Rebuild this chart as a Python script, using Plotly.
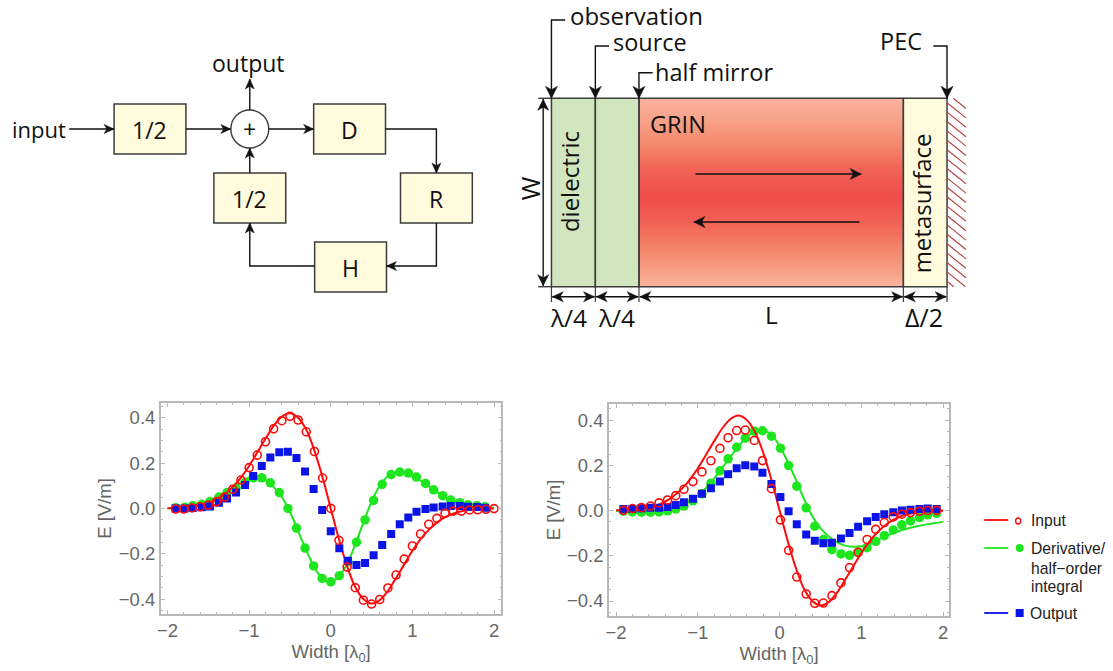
import plotly.graph_objects as go
import numpy as np

W, H = 1113, 671

# ---------- chart data ----------
x_line = [-2.0,-1.9,-1.8,-1.7,-1.6,-1.5,-1.4,-1.3,-1.2,-1.1,-1.0,-0.9,-0.8,-0.7,-0.6,-0.5,-0.4,-0.3,-0.2,-0.1,0.0,
          0.1,0.2,0.3,0.4,0.5,0.6,0.7,0.8,0.9,1.0,1.1,1.2,1.3,1.4,1.5,1.6,1.7,1.8,1.9,2.0]
input_line = [0.001,0.002,0.004,0.007,0.013,0.023,0.039,0.063,0.095,0.136,0.187,0.247,0.307,0.364,0.405,0.42,0.40,0.347,0.255,0.136,0.0,
              -0.136,-0.255,-0.347,-0.40,-0.42,-0.405,-0.364,-0.307,-0.247,-0.187,-0.136,-0.095,-0.063,-0.039,-0.023,-0.013,-0.007,-0.004,-0.002,-0.001]
left_green_line = [0.001,0.003,0.006,0.011,0.018,0.028,0.043,0.063,0.088,0.116,0.135,0.143,0.128,0.095,0.05,-0.015,-0.10,-0.185,-0.26,-0.312,-0.325,
                   -0.30,-0.245,-0.16,-0.062,0.03,0.10,0.142,0.158,0.155,0.142,0.122,0.098,0.073,0.052,0.036,0.024,0.016,0.01,0.006,0.003]
right_green_line = [-0.002,-0.003,-0.003,-0.003,-0.002,0.0,0.003,0.01,0.022,0.04,0.066,0.10,0.142,0.19,0.238,0.285,0.325,0.35,0.355,0.335,0.285,
                    0.215,0.135,0.05,-0.025,-0.078,-0.115,-0.14,-0.155,-0.16,-0.158,-0.148,-0.13,-0.113,-0.098,-0.086,-0.076,-0.068,-0.061,-0.055,-0.05]

left_red_x = [-1.9,-1.8,-1.7,-1.6,-1.5,-1.4,-1.3,-1.2,-1.1,-1.0,-0.9,-0.8,-0.7,-0.6,-0.5,-0.4,-0.3,-0.2,-0.1,0.0,
              0.1,0.2,0.3,0.4,0.5,0.6,0.7,0.8,0.9,1.0,1.1,1.2,1.3,1.4,1.5,1.6,1.7,1.8,1.9,2.0]
left_red_y = [-0.003,-0.003,0.002,0.007,0.015,0.03,0.05,0.084,0.125,0.18,0.235,0.294,0.351,0.387,0.406,0.39,0.338,0.251,0.134,0.0,
              -0.141,-0.259,-0.35,-0.405,-0.422,-0.402,-0.351,-0.294,-0.224,-0.166,-0.113,-0.07,-0.044,-0.022,-0.012,-0.012,-0.007,-0.006,-0.004,-0.001]
left_x = [-1.9,-1.79,-1.69,-1.58,-1.48,-1.37,-1.27,-1.16,-1.05,-0.95,-0.845,-0.74,-0.63,-0.525,-0.42,-0.315,-0.21,-0.105,0.0,
          0.105,0.21,0.315,0.42,0.525,0.63,0.74,0.845,0.95,1.05,1.16,1.26,1.37,1.47,1.58,1.68,1.79,1.89]
left_blue_y = [0.0,0.0,0.002,0.005,0.008,0.025,0.044,0.07,0.103,0.143,0.187,0.225,0.248,0.25,0.222,0.163,0.085,-0.007,-0.101,
               -0.176,-0.231,-0.25,-0.241,-0.207,-0.162,-0.113,-0.07,-0.04,-0.015,-0.003,0.004,0.008,0.01,0.01,0.007,0.006,0.003]
left_green_y = [0.003,0.005,0.012,0.018,0.03,0.05,0.07,0.09,0.115,0.135,0.135,0.113,0.07,0.0,-0.087,-0.175,-0.254,-0.309,-0.324,
                -0.297,-0.235,-0.149,-0.051,0.035,0.106,0.149,0.16,0.156,0.138,0.11,0.082,0.056,0.037,0.025,0.016,0.012,0.007]

right_x = [-1.91,-1.8,-1.69,-1.58,-1.475,-1.37,-1.27,-1.17,-1.06,-0.95,-0.84,-0.73,-0.63,-0.525,-0.42,-0.31,-0.21,-0.1,0.01,
           0.11,0.21,0.325,0.43,0.535,0.64,0.75,0.855,0.96,1.07,1.175,1.28,1.39,1.495,1.6,1.71,1.81,1.92]
right_red_y = [0.001,0.009,0.013,0.02,0.034,0.047,0.066,0.094,0.128,0.171,0.22,0.275,0.322,0.354,0.356,0.31,0.221,0.097,-0.041,
               -0.176,-0.294,-0.369,-0.41,-0.409,-0.376,-0.32,-0.252,-0.185,-0.128,-0.083,-0.053,-0.028,-0.016,-0.009,-0.003,0.0,0.001]
right_blue_y = [0.007,0.007,0.01,0.012,0.013,0.016,0.025,0.037,0.052,0.074,0.099,0.128,0.161,0.187,0.2,0.195,0.167,0.118,0.06,
                -0.003,-0.06,-0.106,-0.133,-0.145,-0.142,-0.124,-0.099,-0.072,-0.047,-0.028,-0.016,-0.007,0.0,0.004,0.007,0.009,0.007]
right_green_y = [-0.003,-0.006,-0.007,-0.007,-0.006,-0.001,0.007,0.02,0.043,0.074,0.121,0.176,0.229,0.28,0.32,0.351,0.353,0.329,0.276,
                 0.199,0.108,0.012,-0.069,-0.128,-0.173,-0.192,-0.198,-0.185,-0.164,-0.136,-0.111,-0.086,-0.063,-0.046,-0.031,-0.019,-0.012]

x_ticks = [-2, -1, 0, 1, 2]
y_ticks = [-0.4, -0.2, 0.0, 0.2, 0.4]
legend_labels = ["Input", "Derivative/", "half\u2212order", "integral", "Output"]

# ---------- colours ----------
RED, GREEN, BLUE = "#ff0a0a", "#1ee61e", "#0a14e6"
GRAY_TXT, FRAME = "#666666", "#b8b8b8"
DARK, STROKE = "#111111", "#3c3c3c"
YELLOW, LEAF = "#fffbdc", "#d1e5bf"
SANS, DIAG = "Liberation Sans", "Open Sans"

fig = go.Figure()
shapes, notes = [], []


# ---------- helpers for the pixel-space overlay ----------
def line(pts, color=DARK, width=1.4):
    d = "M" + " L".join(f"{x},{y}" for x, y in pts)
    shapes.append(dict(type="path", path=d, xref="x3", yref="y3", line=dict(color=color, width=width)))


def head(tip, frm, length=10, half=4.5, color=DARK):
    tx, ty = tip
    fx, fy = frm
    n = ((tx - fx) ** 2 + (ty - fy) ** 2) ** 0.5
    ux, uy = (tx - fx) / n, (ty - fy) / n
    px, py = -uy, ux
    b1 = (tx - ux * length + px * half, ty - uy * length + py * half)
    b2 = (tx - ux * length - px * half, ty - uy * length - py * half)
    m = (tx - ux * length * 0.72, ty - uy * length * 0.72)
    d = f"M{tx},{ty} L{b1[0]},{b1[1]} L{m[0]},{m[1]} L{b2[0]},{b2[1]} Z"
    shapes.append(dict(type="path", path=d, xref="x3", yref="y3", fillcolor=color, line=dict(color=color, width=0.5)))


def arrow(pts, both=False, **kw):
    line(pts)
    head(pts[-1], pts[-2], **kw)
    if both:
        head(pts[0], pts[1], **kw)


def box(x0, y0, x1, y1, fill, color=STROKE, width=1.5):
    shapes.append(dict(type="rect", x0=x0, y0=y0, x1=x1, y1=y1, xref="x3", yref="y3",
                       fillcolor=fill, line=dict(color=color, width=width)))


def text(x, y, s, size=24, color=DARK, family=DIAG, anchor="center", angle=0):
    notes.append(dict(x=x, y=y, text=s, xref="x3", yref="y3", showarrow=False, xanchor=anchor, yanchor="middle",
                      textangle=angle, font=dict(size=size, color=color, family=family), borderpad=0, borderwidth=0))


# ---------- block diagram ----------
for (x0, y0, x1, y1, label) in [(113, 104, 185, 154, "1/2"), (313, 104, 385, 154, "D"), (400, 173, 472, 223, "R"),
                                (213, 173, 285, 223, "1/2"), (314, 242, 386, 292, "H")]:
    box(x0, y0, x1, y1, YELLOW)
    text((x0 + x1) / 2, (y0 + y1) / 2 + 1, label, size=23)
shapes.append(dict(type="circle", x0=230, y0=110, x1=268, y1=148, xref="x3", yref="y3",
                   fillcolor="white", line=dict(color=STROKE, width=1.4)))
text(249, 129, "+", size=23)
arrow([(68, 129), (113, 129)])
arrow([(185, 129), (230, 129)])
arrow([(268, 129), (313, 129)])
arrow([(385, 129), (436, 129), (436, 173)])
arrow([(436, 223), (436, 266), (386, 266)])
arrow([(314, 266), (249, 266), (249, 223)])
arrow([(249, 173), (249, 148)])
arrow([(249, 110), (249, 79)])
text(11, 129, "input", anchor="left", size=22)
text(248, 63, "output", size=23)

# ---------- waveguide diagram ----------
xa, xb, xc, xd, xe = 551.3, 595.3, 639, 904, 947.7
yt, yb = 98.3, 286.7
stop_y = [98.3, 120, 145, 170, 197, 222, 248, 270, 286.7]
stop_z = [0.0, 0.17, 0.45, 0.8, 1.0, 0.82, 0.5, 0.22, 0.0]
edges_y = np.linspace(yt, yb, 95)
mid_y = (edges_y[:-1] + edges_y[1:]) / 2
fig.add_trace(go.Heatmap(x=[xc, xd], y=edges_y, z=[[v] for v in np.interp(mid_y, stop_y, stop_z)],
                         xaxis="x3", yaxis="y3", showscale=False, zmin=0, zmax=1, hoverinfo="skip",
                         colorscale=[[0, "#f9b39c"], [0.5, "#f38367"], [1, "#f04c4a"]]))
box(xa, yt, xb, yb, LEAF)
box(xb, yt, xc, yb, LEAF)
box(xc, yt, xd, yb, "rgba(0,0,0,0)")
box(xd, yt, xe, yb, YELLOW)
# hatching of the conductor
yy = yt - 5
while yy < yb:
    y0h = max(yy, yt)
    x0h = xe + (y0h - yy) * 1.25
    y1h = min(yy + 15.2, yb)
    x1h = xe + (y1h - yy) * 1.25
    if x1h > x0h:
        line([(x0h, y0h), (x1h, y1h)], color="#b5403c", width=1.1)
    yy += 9.4
line([(538, yt), (xa, yt)], color=STROKE)
line([(538, yb), (xa, yb)], color=STROKE)
arrow([(543, yt + 1), (543, yb - 1)], both=True, length=11, half=5.5)
for xv in (xa, xb, xc, xd, xe):
    line([(xv, yb), (xv, 302)], color=STROKE, width=1.2)
for x0, x1 in [(xa, xb), (xb, xc), (xc, xd), (xd, xe)]:
    arrow([(x0 + 0.8, 296.7), (x1 - 0.8, 296.7)], both=True, length=11, half=5)
arrow([(565, 20), (xa, 20), (xa, yt)], length=12, half=6)
arrow([(609, 46), (xb, 46), (xb, yt)], length=12, half=6)
arrow([(652.7, 72.7), (xc, 72.7), (xc, yt)], length=12, half=6)
arrow([(934, 46), (xe, 46), (xe, yt)], length=12, half=6)
arrow([(695.7, 174), (861.7, 174)], length=11, half=5.5)
arrow([(860, 222), (694, 222)], length=11, half=5.5)
text(570, 15, "observation", anchor="left", size=24)
text(613, 42, "source", anchor="left", size=23.5)
text(655, 72, "half mirror", anchor="left", size=23.5)
text(881, 41, "PEC", anchor="left", size=23.5)
text(650, 124, "GRIN", anchor="left", size=23.5)
text(569, 182, "dielectric", size=24, angle=-90)
text(922, 203, "metasurface", size=24, angle=-90)
text(530, 188, "W", size=25.5, angle=-90)
text(568, 317, "\u03bb/4", size=24.5)
text(616, 317, "\u03bb/4", size=24.5)
text(772, 314, "L", size=24.5)
text(925, 317, "\u0394/2", size=25)

# ---------- legend ----------
for y, c in [(520, RED), (548, GREEN), (613, BLUE)]:
    line([(985, y), (1009, y)], color=c, width=1.8)
shapes.append(dict(type="circle", x0=1016.5, y0=518, x1=1021.5, y1=524, xref="x3", yref="y3",
                   fillcolor="white", line=dict(color=RED, width=1.4)))
shapes.append(dict(type="circle", x0=1016.5, y0=544, x1=1024.5, y1=552, xref="x3", yref="y3",
                   fillcolor=GREEN, line=dict(color=GREEN, width=0)))
shapes.append(dict(type="rect", x0=1016.5, y0=609, x1=1024.5, y1=617, xref="x3", yref="y3",
                   fillcolor=BLUE, line=dict(color=BLUE, width=0)))
for y, xl, s in zip([520, 548, 568, 586, 613], [1032, 1032, 1032, 1032, 1031], legend_labels):
    text(xl, y, s, size=15.7, color="#222222", family=SANS, anchor="left")


# ---------- plots ----------
def curves(xa_name, ya_name, green_line, gx, gy, bx, by, rx, ry):
    ax = dict(xaxis=xa_name, yaxis=ya_name, showlegend=False, hoverinfo="skip")
    fig.add_trace(go.Scatter(x=x_line, y=green_line, mode="lines", line=dict(color=GREEN, width=2, shape="spline"), **ax))
    fig.add_trace(go.Scatter(x=gx, y=gy, mode="markers", marker=dict(color=GREEN, size=9.5, symbol="circle"), **ax))
    fig.add_trace(go.Scatter(x=x_line, y=input_line, mode="lines", line=dict(color=RED, width=2, shape="spline"), **ax))
    fig.add_trace(go.Scatter(x=bx, y=by, mode="markers", marker=dict(color=BLUE, size=8, symbol="square"), **ax))
    fig.add_trace(go.Scatter(x=rx, y=ry, mode="markers",
                             marker=dict(color=RED, size=8, symbol="circle-open", line=dict(width=1.6, color=RED)), **ax))


curves("x", "y", left_green_line, left_x, left_green_y, left_x, left_blue_y, left_red_x, left_red_y)
curves("x2", "y2", right_green_line, right_x, right_green_y, right_x, right_blue_y, right_x, right_red_y)


def xaxis(dom, rng, anchor):
    return dict(domain=dom, range=rng, anchor=anchor, tickvals=x_ticks, ticks="inside", ticklen=4, tickwidth=1, tickcolor=FRAME,
                minor=dict(dtick=0.2, ticks="inside", ticklen=2, tickcolor=FRAME, tickwidth=1),
                showgrid=False, zeroline=False, showline=True, linecolor=FRAME, linewidth=1.8, mirror="ticks",
                ticklabelstandoff=-1,
                tickfont=dict(family=SANS, size=18.5, color=GRAY_TXT),
                title=dict(text="Width [\u03bb<sub>0</sub>]", font=dict(family=SANS, size=18.5, color=GRAY_TXT), standoff=5))


def yaxis(dom, rng, anchor):
    return dict(domain=dom, range=rng, anchor=anchor, tickvals=y_ticks, tickformat=".1f", ticks="inside", ticklen=4, tickwidth=1,
                tickcolor=FRAME, minor=dict(dtick=0.05, ticks="inside", ticklen=2, tickcolor=FRAME, tickwidth=1),
                showgrid=False, zeroline=False, showline=True, linecolor=FRAME, linewidth=1.8, mirror="ticks",
                tickfont=dict(family=SANS, size=18.5, color=GRAY_TXT),
                title=dict(text="E [V/m]", font=dict(family=SANS, size=18.5, color=GRAY_TXT), standoff=2))


fig.update_layout(
    width=W, height=H, margin=dict(l=0, r=0, t=0, b=0), autosize=False,
    paper_bgcolor="white", plot_bgcolor="rgba(0,0,0,0)", showlegend=False,
    xaxis=xaxis([157.5 / W, 499.2 / W], [-2.08, 2.09], "y"),
    yaxis=yaxis([1 - 614 / H, 1 - 403 / H], [-0.466, 0.465], "x"),
    xaxis2=xaxis([607.3 / W, 948.3 / W], [-2.085, 2.07], "y2"),
    yaxis2=yaxis([1 - 615.7 / H, 1 - 404.3 / H], [-0.465, 0.47], "x2"),
    xaxis3=dict(domain=[0, 1], range=[2.7, W + 1.03], visible=False, fixedrange=True, anchor="y3"),
    yaxis3=dict(domain=[0, 1], range=[H, 0], visible=False, fixedrange=True, anchor="x3"),
    shapes=shapes, annotations=notes,
)

fig.write_html("out.html", post_script="document.body.style.margin='0';", config=dict(displayModeBar=False))
